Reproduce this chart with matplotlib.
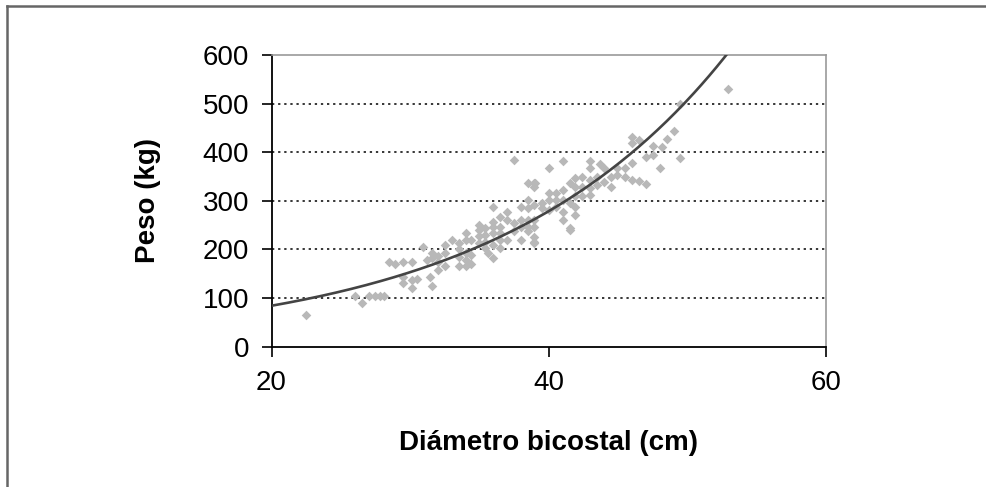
import numpy as np
import matplotlib.pyplot as plt
from matplotlib.lines import Line2D

# diametro bicostal (cm) y peso (kg)
diametro = [22.5, 26.0, 26.5, 27.0, 27.5, 27.8, 28.1, 28.5, 28.9, 29.5, 30.1,
            29.5, 29.5, 30.1, 30.1, 30.5, 30.9, 31.2, 31.4, 31.6, 31.6, 31.6,
            32.0, 32.0, 32.0, 32.5, 32.5, 32.5, 33.0, 33.5, 33.5, 33.5, 33.5,
            34.0, 34.0, 34.0, 34.0, 34.0, 34.4, 34.4, 34.4, 35.0, 35.0, 35.0,
            35.0, 35.4, 35.4, 35.4, 35.4, 35.6, 36.0, 36.0, 36.0, 36.0, 36.0,
            36.0, 36.5, 36.5, 36.5, 36.5, 36.5, 37.0, 37.0, 37.0, 37.5, 37.5,
            37.5, 38.0, 38.0, 38.0, 38.0, 38.5, 38.5, 38.5, 38.5, 38.5, 38.5,
            38.9, 38.9, 38.9, 38.9, 38.9, 38.9, 38.9, 38.9, 39.0, 39.5, 39.5,
            40.0, 40.0, 40.0, 40.0, 40.5, 40.5, 40.5, 41.0, 41.0, 41.0, 41.0,
            41.0, 41.5, 41.5, 41.5, 41.5, 41.9, 41.9, 41.9, 41.9, 41.9, 42.4,
            42.4, 42.4, 43.0, 43.0, 43.0, 43.0, 43.0, 43.5, 43.5, 43.7, 44.0,
            44.0, 44.5, 44.5, 44.9, 44.9, 45.5, 45.5, 46.0, 46.0, 46.0, 46.0,
            46.5, 46.5, 47.0, 47.0, 47.5, 47.5, 48.0, 48.2, 48.5, 49.0, 49.5,
            49.5, 52.9]
peso = [65, 104, 89, 104, 104, 104, 104, 175, 170, 175, 175,
        143, 130, 137, 120, 139, 206, 178, 144, 125, 192, 182,
        187, 175, 158, 209, 192, 165, 220, 213, 200, 185, 166,
        233, 220, 192, 178, 166, 220, 189, 170, 250, 240, 227,
        214, 244, 230, 216, 202, 192, 288, 257, 247, 233, 209,
        182, 267, 247, 233, 220, 202, 278, 261, 220, 384, 254,
        237, 288, 261, 247, 220, 337, 302, 285, 261, 247, 237,
        337, 329, 292, 261, 247, 213, 226, 216, 336, 295, 285,
        281, 368, 317, 302, 316, 302, 288, 381, 322, 302, 278,
        261, 336, 295, 244, 239, 347, 329, 309, 288, 271, 350,
        329, 309, 381, 367, 343, 326, 312, 350, 333, 376, 367,
        339, 350, 329, 367, 353, 367, 350, 432, 419, 377, 343,
        425, 340, 391, 335, 413, 394, 368, 411, 427, 444, 499,
        388, 530]

x_ticks = [20, 40, 60]
y_ticks = [0, 100, 200, 300, 400, 500, 600]

# linea de tendencia exponencial (ajuste por minimos cuadrados sobre ln(peso))
b, ln_a = np.polyfit(diametro, np.log(peso), 1)
xs = np.linspace(20, 60, 300)
ys = np.exp(ln_a) * np.exp(b * xs)

plt.rcParams['font.family'] = 'Liberation Sans'

fig = plt.figure(figsize=(9.87, 4.87), dpi=100)
ax = fig.add_axes([0.2751, 0.2881, 0.5618, 0.599])

ax.scatter(diametro, peso, marker='D', s=24, color='#b8b8b8', linewidths=0, zorder=3)
ax.plot(xs, ys, color='#444444', linewidth=1.9, zorder=4)

ax.set_xlim(20, 60)
ax.set_ylim(0, 600)
ax.set_xticks(x_ticks)
ax.set_yticks(y_ticks)
for v in y_ticks[1:-1]:
    ax.axhline(v, color='black', linestyle=(0, (1.5, 2.5)), linewidth=1.1, zorder=1)

ax.tick_params(direction='out', length=7, width=1.2, labelsize=20, colors='black')
ax.tick_params(axis='y', pad=9)
ax.tick_params(axis='x', pad=10)

ax.spines['left'].set_linewidth(1.3)
ax.spines['bottom'].set_linewidth(1.3)
ax.spines['top'].set_color('#999999')
ax.spines['right'].set_color('#999999')
ax.spines['top'].set_linewidth(1.2)
ax.spines['right'].set_linewidth(1.2)

ax.set_xlabel('Diámetro bicostal (cm)', fontsize=20, fontweight='bold', labelpad=24)
ax.set_ylabel('Peso (kg)', fontsize=20, fontweight='bold', labelpad=30)

# marco del grafico (solo arriba e izquierda visibles)
fig.add_artist(Line2D([7 / 987, 7 / 987], [0, 1 - 6 / 487], color='#666666', linewidth=1.8))
fig.add_artist(Line2D([7 / 987, 1], [1 - 6 / 487, 1 - 6 / 487], color='#666666', linewidth=1.8))

fig.savefig('out.png', dpi=100)
